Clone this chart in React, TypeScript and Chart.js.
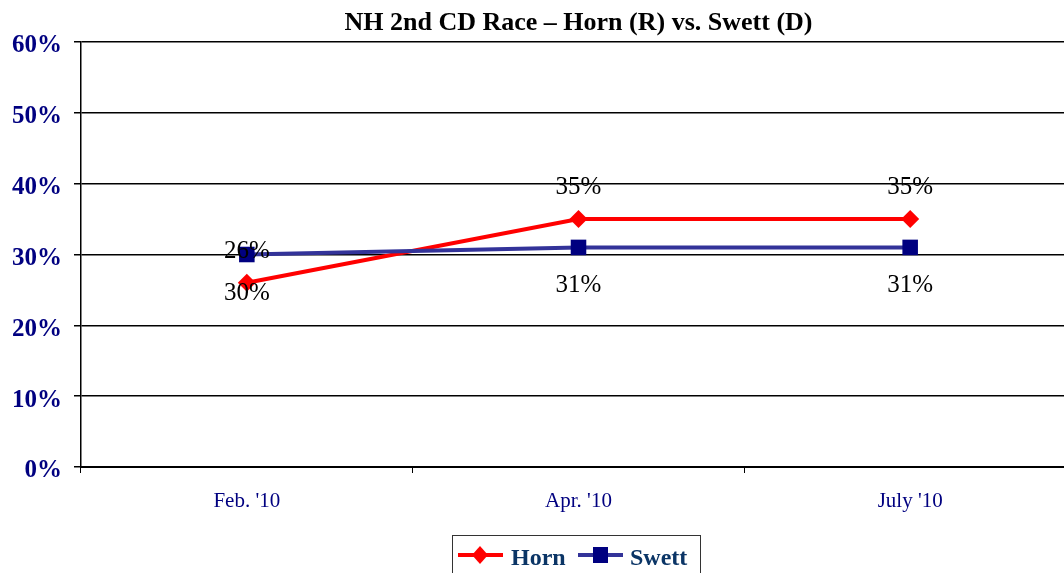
import React, { useEffect, useRef } from "react";
import { Chart, registerables } from "chart.js";

Chart.register(...registerables);

const categories = ["Feb. '10", "Apr. '10", "July '10"];
const hornValues = [26, 35, 35];
const swettValues = [30, 31, 31];
const yTicks = [0, 10, 20, 30, 40, 50, 60];
const seriesNames = ["Horn", "Swett"];

const SERIF = '"Liberation Serif", "Times New Roman", serif';

export default function App() {
  const ref = useRef<HTMLCanvasElement | null>(null);

  useEffect(() => {
    if (!ref.current) return;

    const titlePlugin = {
      id: "customTitle",
      afterDraw(chart: any) {
        const { ctx, chartArea } = chart;
        ctx.save();
        ctx.font = `bold 26px ${SERIF}`;
        ctx.fillStyle = "#000";
        ctx.textAlign = "center";
        ctx.textBaseline = "alphabetic";
        ctx.fillText(
          "NH 2nd CD Race \u2013 Horn (R) vs. Swett (D)",
          (chartArea.left + chartArea.right) / 2,
          30
        );
        ctx.restore();
      },
    };

    const labelOffsets = [-25, 45];
    const dataLabelPlugin = {
      id: "dataLabels",
      afterDatasetsDraw(chart: any) {
        const { ctx } = chart;
        ctx.save();
        ctx.font = `25px ${SERIF}`;
        ctx.fillStyle = "#000";
        ctx.textAlign = "center";
        ctx.textBaseline = "alphabetic";
        chart.data.datasets.forEach((ds: any, i: number) => {
          const meta = chart.getDatasetMeta(i);
          meta.data.forEach((pt: any, j: number) => {
            ctx.fillText(ds.data[j] + "%", pt.x, pt.y + labelOffsets[i]);
          });
        });
        ctx.restore();
      },
    };

    const legendPlugin = {
      id: "customLegend",
      afterDraw(chart: any) {
        const { ctx } = chart;
        ctx.save();
        ctx.strokeStyle = "#333";
        ctx.lineWidth = 1;
        ctx.strokeRect(452.5, 535.5, 248, 50);
        const y = 555;
        // Horn
        ctx.strokeStyle = "#ff0000";
        ctx.lineWidth = 4;
        ctx.beginPath();
        ctx.moveTo(458, y);
        ctx.lineTo(503, y);
        ctx.stroke();
        ctx.fillStyle = "#ff0000";
        ctx.beginPath();
        ctx.moveTo(480, y - 9);
        ctx.lineTo(488, y);
        ctx.lineTo(480, y + 9);
        ctx.lineTo(472, y);
        ctx.closePath();
        ctx.fill();
        // Swett
        ctx.strokeStyle = "#333399";
        ctx.beginPath();
        ctx.moveTo(578, y);
        ctx.lineTo(623, y);
        ctx.stroke();
        ctx.fillStyle = "#000080";
        ctx.fillRect(593, y - 8, 15, 16);
        ctx.font = `bold 24px ${SERIF}`;
        ctx.fillStyle = "#0b3566";
        ctx.textAlign = "left";
        ctx.textBaseline = "alphabetic";
        ctx.fillText(seriesNames[0], 511, 565);
        ctx.fillText(seriesNames[1], 630, 565);
        ctx.restore();
      },
    };

    const chart = new Chart(ref.current, {
      type: "line",
      data: {
        labels: categories,
        datasets: [
          {
            label: seriesNames[0],
            data: hornValues,
            borderColor: "#ff0000",
            backgroundColor: "#ff0000",
            borderWidth: 4,
            pointStyle: "rectRot",
            pointRadius: 9,
            pointBorderWidth: 0,
            pointBackgroundColor: "#ff0000",
            pointBorderColor: "#ff0000",
            tension: 0,
            order: 1,
          },
          {
            label: seriesNames[1],
            data: swettValues,
            borderColor: "#333399",
            backgroundColor: "#000080",
            borderWidth: 4,
            pointStyle: "rect",
            pointRadius: 11,
            pointBorderWidth: 0,
            pointBackgroundColor: "#000080",
            pointBorderColor: "#000080",
            tension: 0,
            order: 0,
          },
        ],
      },
      options: {
        responsive: false,
        animation: false,
        devicePixelRatio: 1,
        layout: { padding: { top: 42, right: 14, left: 0, bottom: 0 } },
        plugins: {
          legend: { display: false },
          title: { display: false },
          tooltip: { enabled: false },
        },
        scales: {
          x: {
            type: "category",
            offset: true,
            grid: {
              offset: true,
              drawOnChartArea: false,
              tickLength: 6,
              color: "#000",
              lineWidth: 1,
            },
            border: { color: "#000", width: 2 },
            ticks: {
              color: "#000080",
              font: { family: SERIF, size: 21 },
              padding: 16,
              maxRotation: 0,
              autoSkip: false,
            },
            afterFit: (s: any) => {
              s.height = 106;
            },
          },
          y: {
            min: yTicks[0],
            max: yTicks[yTicks.length - 1],
            afterBuildTicks: (s: any) => {
              s.ticks = yTicks.map((v) => ({ value: v }));
            },
            ticks: {
              color: "#000080",
              font: { family: SERIF, size: 25, weight: "bold" },
              padding: 12,
              labelOffset: 4,
              callback: (v: any) => v + "%",
            },
            grid: { color: "#000", lineWidth: 1.5, tickLength: 7 },
            border: { color: "#000", width: 1.5 },
            afterFit: (s: any) => {
              s.width = 81;
            },
          },
        },
      },
      plugins: [titlePlugin, dataLabelPlugin, legendPlugin],
    } as any);

    return () => chart.destroy();
  }, []);

  return (
    <div
      style={{
        position: "fixed",
        left: 0,
        top: 0,
        width: 1064,
        height: 573,
        overflow: "hidden",
        background: "#fff",
      }}
    >
      <canvas ref={ref} width={1090} height={573} style={{ display: "block" }} />
    </div>
  );
}
